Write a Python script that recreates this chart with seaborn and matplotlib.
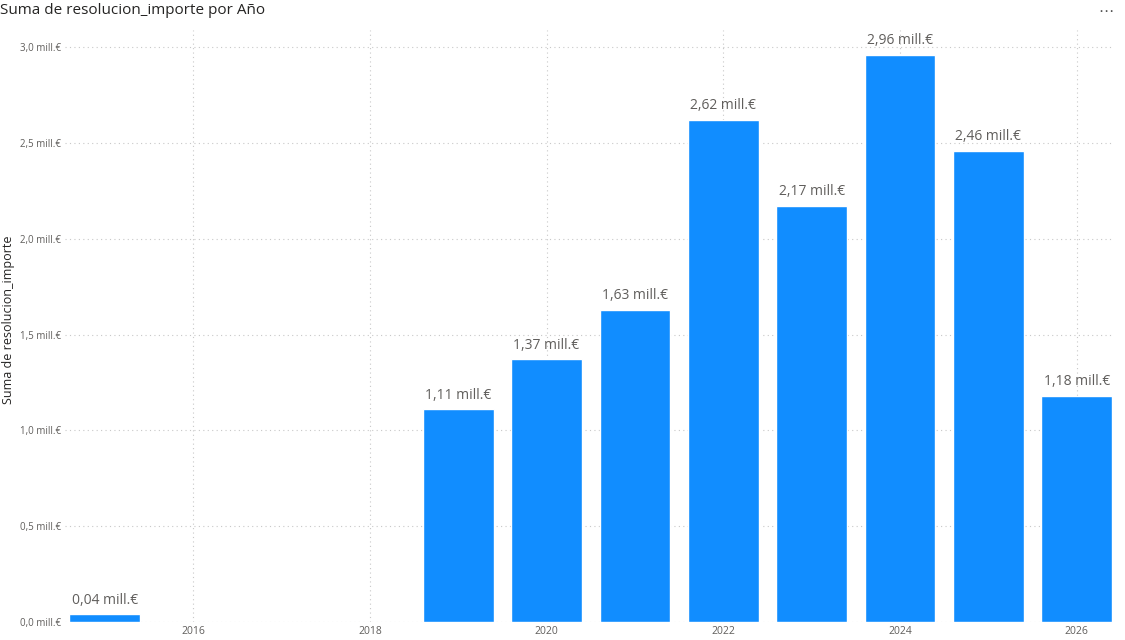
import matplotlib
matplotlib.use("Agg")
import matplotlib.pyplot as plt
import seaborn as sns
import pandas as pd

years = [2015, 2019, 2020, 2021, 2022, 2023, 2024, 2025, 2026]
values = [0.04, 1.11, 1.37, 1.63, 2.62, 2.17, 2.96, 2.46, 1.18]
xticks = [2016, 2018, 2020, 2022, 2024, 2026]
yticks = [0.0, 0.5, 1.0, 1.5, 2.0, 2.5, 3.0]

sns.set_style("white")
plt.rcParams['font.family'] = ['Open Sans', 'DejaVu Sans']

df = pd.DataFrame({"year": years, "value": values})
fig = plt.figure(figsize=(11.25, 6.4), dpi=100)
ax = fig.add_axes([65/1125, 18/640, 1047/1125, 592/640])
sns.barplot(data=df, x="year", y="value", native_scale=True, width=0.8,
            color="#118DFF", saturation=1, ax=ax, zorder=3)
ax.set_xlim(2014.55, 2026.4)
ax.set_ylim(0, 3.089)
ax.set_xticks(xticks)
ax.set_xticklabels([str(t) for t in xticks], fontsize=7.5, color="#605E5C")
ax.set_yticks(yticks)
ax.set_yticklabels([f"{t:.1f}".replace(".", ",") + " mill.€" for t in yticks],
                   fontsize=7, color="#605E5C")
ax.tick_params(length=0, pad=3)
ax.grid(True, linestyle=(0, (1, 3)), color="#C8C8C8", linewidth=0.8, zorder=0)
for s in ax.spines.values():
    s.set_visible(False)
ax.set_xlabel("")
ax.set_ylabel("")
fig.text(2/1125, 0.5, "Suma de resolucion_importe", fontsize=9, color="#252423",
         rotation=90, ha="left", va="center")
for y, v in zip(years, values):
    ax.text(y, v + 0.035, f"{v:.2f}".replace(".", ",") + " mill.€",
            ha="center", va="bottom", fontsize=10, color="#605E5C")
fig.text(0.0, 1 - 10/640, "Suma de resolucion_importe por Año", fontsize=11,
         color="#252423", va="center", ha="left")
fig.text(1 - 12/1125, 1 - 12/640, "⋯", fontsize=11, color="#555", va="center", ha="right")
fig.savefig("out.png", dpi=100)
